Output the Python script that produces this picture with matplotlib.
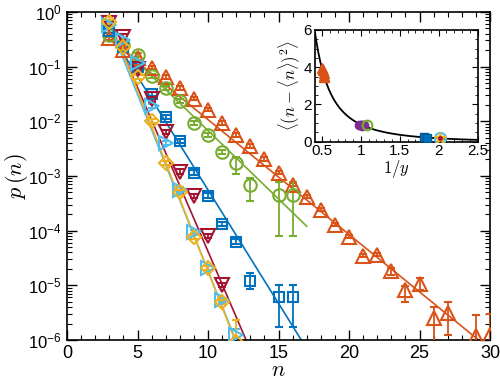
import numpy as np
import matplotlib
matplotlib.use("Agg")
import matplotlib.pyplot as plt
from matplotlib.ticker import MultipleLocator, LogLocator, NullFormatter, FuncFormatter

plt.rcParams['font.family'] = ['Liberation Sans', 'DejaVu Sans']
plt.rcParams['mathtext.fontset'] = 'cm'

# ---------------- main panel data (log10 p(n)) ----------------
n_orange = [3, 4, 5, 6, 7, 8, 9, 10, 11, 12, 13, 14, 15, 16, 17, 18, 19, 20, 21, 22, 23, 24, 25, 26, 27, 29, 30]
lp_orange = [-0.48, -0.69, -0.85, -1.02, -1.19, -1.39, -1.59, -1.79, -2.03, -2.25, -2.45, -2.69, -2.94, -3.16,
             -3.38, -3.62, -3.89, -4.11, -4.46, -4.44, -4.73, -5.08, -4.97, -5.59, -5.50, -5.92, -5.90]
elo_orange = [0.03]*20 + [0.08, 0.22, 0.12, 1.5, 0.4, 1.5, 1.5]
ehi_orange = [0.03]*20 + [0.05, 0.06, 0.10, 0.20, 0.20, 0.38, 0.38]

n_green = [3, 4, 5, 6, 7, 8, 9, 10, 11, 12, 13, 15, 16]
lp_green = [-0.42, -0.60, -0.79, -1.17, -1.39, -1.63, -2.03, -2.25, -2.56, -2.76, -3.16, -3.35, -3.35]
elo_green = [0.03]*9 + [0.20, 0.30, 0.75, 0.75]
ehi_green = [0.03]*9 + [0.10, 0.12, 0.24, 0.24]

n_blue = [3, 4, 5, 6, 7, 8, 9, 10, 11, 12, 13, 15, 16]
lp_blue = [-0.35, -0.65, -1.00, -1.50, -1.92, -2.36, -2.94, -3.36, -3.88, -4.20, -4.92, -5.21, -5.21]
elo_blue = [0.04]*10 + [0.15, 0.55, 0.55]
ehi_blue = [0.04]*10 + [0.15, 0.22, 0.22]

n_red = [3, 4, 5, 6, 7, 8, 9, 10, 11]
lp_red = [-0.20, -0.45, -1.05, -1.60, -2.20, -2.92, -3.37, -4.10, -4.99]
elo_red = [0.04]*9
ehi_red = [0.04]*9

n_cyan = [3, 4, 5, 6, 7, 8, 9, 10, 11, 12]
lp_cyan = [-0.24, -0.51, -0.93, -1.72, -2.40, -3.25, -4.02, -4.68, -5.27, -5.90]
elo_cyan = [0.04]*10
ehi_cyan = [0.04]*9 + [0.10]

n_yellow = [3, 4, 5, 6, 7, 8, 9, 10, 11, 12]
lp_yellow = [-0.18, -0.65, -1.19, -1.99, -2.76, -3.30, -4.12, -4.68, -5.30, -6.03]
elo_yellow = [0.04]*9 + [1.5]
ehi_yellow = [0.04]*9 + [0.40]

# fitted exponential lines: log10 p = a + b*(n-3), drawn from n=3 to n_end
fit_a = {'orange': -0.50, 'green': -0.42, 'blue': -0.35, 'red': -0.18, 'cyan': -0.22, 'yellow': -0.12}
fit_b = {'orange': -0.21, 'green': -0.25, 'blue': -0.415, 'red': -0.60, 'cyan': -0.645, 'yellow': -0.66}
fit_end = {'orange': 29.3, 'green': 17.0, 'blue': 16.6, 'red': 12.8, 'cyan': 12.1, 'yellow': 11.9}

colors = {'orange': '#D95319', 'green': '#77AC30', 'blue': '#0072BD', 'red': '#A2142F',
          'cyan': '#4DBEEE', 'yellow': '#EDB120', 'purple': '#7E2F8E'}
markers = {'orange': '^', 'green': 'o', 'blue': 's', 'red': 'v', 'cyan': '>', 'yellow': 'D'}
msizes = {'orange': 10, 'green': 9, 'blue': 7.5, 'red': 10, 'cyan': 9.5, 'yellow': 7.5}

series = {
    'orange': (n_orange, lp_orange, elo_orange, ehi_orange),
    'green': (n_green, lp_green, elo_green, ehi_green),
    'blue': (n_blue, lp_blue, elo_blue, ehi_blue),
    'red': (n_red, lp_red, elo_red, ehi_red),
    'cyan': (n_cyan, lp_cyan, elo_cyan, ehi_cyan),
    'yellow': (n_yellow, lp_yellow, elo_yellow, ehi_yellow),
}

# ---------------- inset data ----------------
inv_y_orange = [0.50, 0.51, 0.52, 0.53, 0.52]
var_orange = [3.95, 3.85, 3.7, 3.55, 3.5]
inv_y_purple = [0.98, 1.00, 1.02, 1.04, 1.01]
var_purple = [0.90, 0.88, 0.87, 0.88, 0.86]
inv_y_green = [1.08]
var_green = [0.92]
inv_y_blue = [1.81, 1.85]
var_blue = [0.27, 0.22]
inv_y_cyan = [2.02]
var_cyan = [0.21]

fig = plt.figure(figsize=(5.0, 3.84), dpi=100)
ax = fig.add_axes([0.134, 0.1146, 0.846, 0.8544])

order = ['orange', 'green', 'blue', 'red', 'cyan', 'yellow']
for key in order:
    c = colors[key]
    nf = np.linspace(3, fit_end[key], 200)
    ax.plot(nf, 10 ** (fit_a[key] + fit_b[key] * (nf - 3)), '-', color=c, lw=1.2, zorder=2)
for key in order:
    n, lp, elo, ehi = series[key]
    n = np.array(n, float)
    p = 10 ** np.array(lp)
    lo = p - p * 10 ** (-np.array(elo))
    hi = p * 10 ** np.array(ehi) - p
    ax.errorbar(n, p, yerr=[lo, hi], fmt=markers[key], color=colors[key], mfc='none',
                mec=colors[key], ms=msizes[key], mew=1.5, elinewidth=1.3, capsize=3,
                capthick=1.3, zorder=3, clip_on=True)

ax.set_yscale('log')
ax.set_xlim(0, 30)
ax.set_ylim(1e-6, 1)
ax.xaxis.set_major_locator(MultipleLocator(5))
ax.xaxis.set_minor_locator(MultipleLocator(1))
ax.yaxis.set_major_locator(LogLocator(base=10, numticks=10))
ax.yaxis.set_minor_locator(LogLocator(base=10, subs=np.arange(2, 10), numticks=20))
ax.yaxis.set_minor_formatter(NullFormatter())
ax.yaxis.set_major_formatter(FuncFormatter(
    lambda v, pos: r'$\mathregular{10^{%d}}$' % int(round(np.log10(v)))))
ax.tick_params(which='both', direction='in', top=True, right=True)
ax.tick_params(axis='x', labelsize=13)
ax.tick_params(axis='y', labelsize=12, pad=4)
ax.tick_params(which='major', length=7, width=1.0)
ax.tick_params(which='minor', length=3.5, width=0.8)
for s in ax.spines.values():
    s.set_linewidth(1.2)
ax.set_xlabel(r'$n$', fontsize=16, labelpad=-1)
ax.text(-0.12, 0.5, r'$p\,(n)$', fontsize=16, rotation=90, ha='center', va='center',
        transform=ax.transAxes)

# ---------------- inset ----------------
ins = fig.add_axes([0.63, 0.631, 0.325, 0.291])
xc = np.linspace(0.41, 2.5, 300)
ins.plot(xc, np.exp(-xc) / (1 - np.exp(-xc)) ** 2, '-', color='black', lw=1.3, zorder=2)
ins.plot(inv_y_orange, var_orange, '^', color=colors['orange'], ms=7, zorder=3)
ins.plot(inv_y_purple, var_purple, 'o', color=colors['purple'], ms=6, zorder=3)
ins.plot(inv_y_green, var_green, 'o', mfc='none', mec=colors['green'], ms=7, mew=1.5, zorder=3)
ins.plot(inv_y_blue, var_blue, 's', mfc=colors['blue'], mec='#005a96', ms=6, zorder=3)
ins.plot(inv_y_cyan, var_cyan, 'o', mfc='none', mec=colors['cyan'], ms=8, mew=1.5, zorder=3)
ins.plot(inv_y_cyan, var_cyan, '*', color=colors['yellow'], ms=9, zorder=3)
ins.plot(inv_y_cyan, var_cyan, '.', color=colors['red'], ms=5, zorder=4)
ins.set_xlim(0.41, 2.5)
ins.set_ylim(0, 6)
ins.xaxis.set_minor_locator(MultipleLocator(0.1))
ins.yaxis.set_major_locator(MultipleLocator(2))
ins.yaxis.set_minor_locator(MultipleLocator(0.5))
ins.set_xticks([0.5, 1, 1.5, 2, 2.5])
ins.set_xticklabels(['0.5', '1', '1.5', '2', '2.5'])
ins.tick_params(which='both', direction='in', top=True, right=True, labelsize=11, pad=2)
ins.tick_params(which='major', length=4)
ins.tick_params(which='minor', length=2)
for s in ins.spines.values():
    s.set_linewidth(1.2)
ins.set_xlabel(r'$1/y$', fontsize=12, labelpad=0)
ins.set_ylabel(r'$\langle(n-\langle n\rangle)^2\rangle$', fontsize=12, labelpad=1)

fig.savefig('out.png', dpi=100)
